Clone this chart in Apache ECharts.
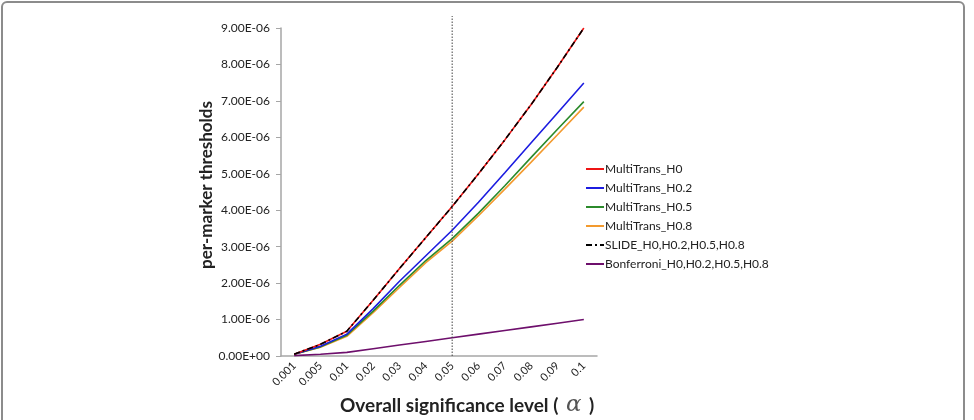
<!DOCTYPE html>
<html>
<head>
<meta charset="utf-8">
<script src="https://cdn.jsdelivr.net/npm/echarts@6/dist/echarts.min.js"></script>
<style>
  html, body { margin: 0; padding: 0; background: #fff; }
  #main { width: 974px; height: 420px; }
</style>
</head>
<body>
<div id="main"></div>
<script>
// 显著性水平（类别轴）
var alphaLevels = ['0.001', '0.005', '0.01', '0.02', '0.03', '0.04', '0.05', '0.06', '0.07', '0.08', '0.09', '0.1'];

// 阈值，单位 1E-06
var multiTransH0   = [0.05, 0.32, 0.68, 1.53, 2.40, 3.25, 4.10, 5.00, 5.93, 6.90, 7.93, 9.00];
var multiTransH02  = [0.05, 0.27, 0.60, 1.30, 2.05, 2.75, 3.45, 4.22, 5.03, 5.85, 6.67, 7.49];
var multiTransH05  = [0.05, 0.25, 0.57, 1.23, 1.94, 2.62, 3.22, 3.92, 4.67, 5.45, 6.22, 6.98];
var multiTransH08  = [0.05, 0.24, 0.54, 1.19, 1.88, 2.56, 3.15, 3.85, 4.58, 5.32, 6.07, 6.83];
var slideAll       = [0.05, 0.32, 0.68, 1.53, 2.40, 3.25, 4.10, 5.00, 5.93, 6.90, 7.93, 9.00];
var bonferroniAll  = [0.01, 0.05, 0.10, 0.20, 0.30, 0.40, 0.50, 0.60, 0.70, 0.80, 0.90, 1.00];

var yTicks = [0, 1, 2, 3, 4, 5, 6, 7, 8, 9];
var markAlpha = '0.05';

var seriesNames = ['MultiTrans_H0', 'MultiTrans_H0.2', 'MultiTrans_H0.5', 'MultiTrans_H0.8',
                   'SLIDE_H0,H0.2,H0.5,H0.8', 'Bonferroni_H0,H0.2,H0.5,H0.8'];

function sciLabel(v) {
  var s = (v * 1e-6).toExponential(2).toUpperCase(); // 9.00E-6
  var m = s.match(/^(.*)E([+-])(\d+)$/);
  var exp = m[3].length < 2 ? '0' + m[3] : m[3];
  return m[1] + 'E' + m[2] + exp;
}

function lineSeries(name, data, color, type) {
  return {
    name: name,
    type: 'line',
    data: data,
    symbol: 'none',
    smooth: false,
    lineStyle: { color: color, width: 1.6, type: type || 'solid' },
    itemStyle: { color: color }
  };
}

var myChart = echarts.init(document.getElementById('main'));

var option = {
  animation: false,
  textStyle: { fontFamily: 'Lato, "Open Sans", sans-serif' },
  grid: [
    { left: 281, right: 377, top: 28, bottom: 64 },
    { left: 281, right: 377, top: 16, bottom: 64 }
  ],
  legend: {
    data: seriesNames,
    orient: 'vertical',
    left: 585,
    top: 163,
    padding: 0,
    itemWidth: 18,
    itemHeight: 14,
    itemGap: 7,
    itemStyle: { opacity: 0 },
    textStyle: { fontSize: 12, color: '#222', padding: [0, 0, 0, -4] }
  },
  xAxis: [{
    type: 'category',
    gridIndex: 0,
    data: alphaLevels,
    boundaryGap: true,
    axisLine: { lineStyle: { color: '#a6a6a6', width: 1.5 } },
    axisTick: { alignWithLabel: true, length: 5, lineStyle: { color: '#a6a6a6' } },
    axisLabel: { rotate: 45, fontSize: 11, color: '#222', margin: 8, interval: 0 }
  }, {
    type: 'category',
    gridIndex: 1,
    data: alphaLevels,
    boundaryGap: true,
    show: false
  }],
  yAxis: [{
    type: 'value',
    gridIndex: 0,
    min: 0,
    max: 9,
    interval: 1,
    name: 'per-marker thresholds',
    nameLocation: 'middle',
    nameGap: 66,
    nameTextStyle: { fontSize: 17, fontWeight: 'bold', color: '#222', padding: [0, 0, 0, 14] },
    axisLine: { show: true, lineStyle: { color: '#a6a6a6', width: 1.5 } },
    axisTick: { show: true, length: 5, lineStyle: { color: '#a6a6a6' } },
    splitLine: { show: false },
    axisLabel: {
      fontSize: 12, color: '#222', margin: 11,
      formatter: function (v) { return yTicks.indexOf(v) >= 0 ? sciLabel(v) : ''; }
    }
  }, {
    type: 'value',
    gridIndex: 1,
    min: 0,
    max: 1,
    show: false
  }],
  graphic: [{
    type: 'rect',
    silent: true,
    shape: { x: 2, y: 2, width: 962, height: 440, r: 5 },
    style: { fill: 'none', stroke: '#8c8c8c', lineWidth: 2 }
  }, {
    type: 'text',
    left: 340,
    top: 394,
    style: {
      text: 'Overall significance level ( {a|α} )',
      font: 'bold 19px Lato, "Open Sans", sans-serif',
      fill: '#222',
      rich: {
        a: { fontFamily: '"DejaVu Serif", serif', fontStyle: 'italic', fontSize: 23, fontWeight: 'normal', fill: '#555', padding: [0, 3, 0, 3] }
      }
    }
  }],
  series: [
    lineSeries(seriesNames[5], bonferroniAll, '#6e0f6c'),
    lineSeries(seriesNames[3], multiTransH08, '#f39a2e'),
    lineSeries(seriesNames[2], multiTransH05, '#2b8a2b'),
    lineSeries(seriesNames[1], multiTransH02, '#1c1ce0'),
    lineSeries(seriesNames[0], multiTransH0, '#ee1414'),
    lineSeries(seriesNames[4], slideAll, '#000000', [6, 3, 2, 3]),
    {
      name: 'alpha marker',
      type: 'line',
      xAxisIndex: 1,
      yAxisIndex: 1,
      symbol: 'none',
      silent: true,
      data: [[markAlpha, 0], [markAlpha, 1]],
      lineStyle: { color: '#444', width: 1, type: [1.5, 1.5] }
    }
  ]
};

myChart.setOption(option);
</script>
</body>
</html>
